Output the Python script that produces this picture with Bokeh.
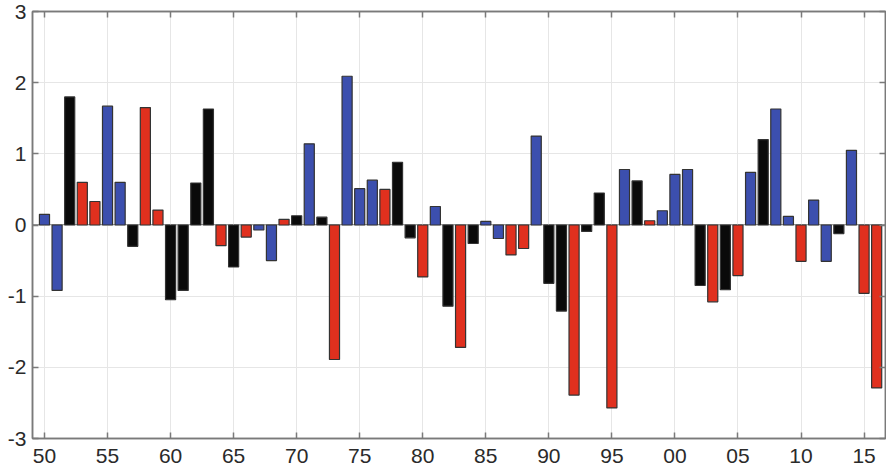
from bokeh.plotting import figure
from bokeh.models import FixedTicker, LinearAxis, Range1d, ColumnDataSource
from bokeh.embed import file_html
from bokeh.resources import INLINE

years = list(range(1950, 2017))
values = [0.15, -0.92, 1.80, 0.60, 0.33, 1.67, 0.60, -0.30, 1.65, 0.21,
          -1.05, -0.92, 0.59, 1.63, -0.29, -0.59, -0.17, -0.07, -0.50, 0.08,
          0.13, 1.14, 0.11, -1.89, 2.09, 0.51, 0.63, 0.50, 0.88, -0.18,
          -0.73, 0.26, -1.14, -1.72, -0.26, 0.05, -0.19, -0.42, -0.33, 1.25,
          -0.82, -1.21, -2.39, -0.09, 0.45, -2.57, 0.78, 0.62, 0.06, 0.20,
          0.71, 0.78, -0.85, -1.08, -0.91, -0.71, 0.74, 1.20, 1.63, 0.12,
          -0.51, 0.35, -0.51, -0.12, 1.05, -0.96, -2.29]
groups = ["b", "b", "k", "r", "r", "b", "b", "k", "r", "r",
          "k", "k", "k", "k", "r", "k", "r", "b", "b", "r",
          "k", "b", "k", "r", "b", "b", "b", "r", "k", "k",
          "r", "b", "k", "r", "k", "b", "b", "r", "r", "b",
          "k", "k", "r", "k", "k", "r", "b", "k", "r", "b",
          "b", "b", "k", "r", "k", "r", "b", "k", "b", "b",
          "r", "b", "b", "k", "b", "r", "r"]
palette = {"b": "#3c4fae", "r": "#e0301e", "k": "#0a0a0a"}
x_ticks = list(range(1950, 2016, 5))
x_tick_labels = ["50", "55", "60", "65", "70", "75", "80", "85", "90", "95",
                 "00", "05", "10", "15"]
y_ticks = [-3, -2, -1, 0, 1, 2, 3]
y_tick_labels = ["-3", "-2", "-1", "0", "1", "2", "3"]

src = ColumnDataSource(dict(x=years, top=values,
                            color=[palette[g] for g in groups]))

p = figure(width=886, height=475, output_backend="svg", toolbar_location=None,
           x_range=Range1d(1949.05, 2016.7), y_range=Range1d(-3, 3),
           min_border_left=32, min_border_right=1, min_border_top=11,
           min_border_bottom=37)
p.background_fill_color = "white"
p.border_fill_color = "white"
p.outline_line_color = "#7a7a7a"
p.outline_line_width = 1.5

p.vbar(x="x", top="top", bottom=0, width=0.8, source=src,
       fill_color="color", line_color="#333333", line_width=1.2)

axis_color = "#7a7a7a"
text_color = "#2a2a2a"
font = "Liberation Sans"

bottom_axis = p.below[0]
left_axis = p.left[0]
top_axis = LinearAxis(ticker=FixedTicker(ticks=x_ticks))
right_axis = LinearAxis(ticker=FixedTicker(ticks=y_ticks))
p.add_layout(top_axis, "above")
p.add_layout(right_axis, "right")

for ax in (bottom_axis, left_axis, top_axis, right_axis):
    ax.axis_line_color = axis_color
    ax.axis_line_width = 1.5
    ax.major_tick_line_color = axis_color
    ax.major_tick_line_width = 1.5
    ax.major_tick_in = 6
    ax.major_tick_out = 0
    ax.minor_tick_line_color = None
    ax.major_label_text_font = font
    ax.major_label_text_font_size = "21px"
    ax.major_label_text_color = text_color

for ax in (top_axis, right_axis):
    ax.major_label_text_font_size = "0px"
    ax.major_label_standoff = 0
    ax.major_label_text_color = None

bottom_axis.ticker = FixedTicker(ticks=x_ticks)
bottom_axis.major_label_overrides = {t: l for t, l in zip(x_ticks, x_tick_labels)}
bottom_axis.major_label_standoff = 10
left_axis.ticker = FixedTicker(ticks=y_ticks)
left_axis.major_label_overrides = {t: l for t, l in zip(y_ticks, y_tick_labels)}
left_axis.major_label_standoff = 6

p.xgrid.ticker = FixedTicker(ticks=x_ticks)
p.ygrid.ticker = FixedTicker(ticks=y_ticks)
p.xgrid.grid_line_color = "#e6e6e6"
p.ygrid.grid_line_color = "#e6e6e6"

p.line(x=[1949.05, 2016.7], y=[0, 0], line_color="#333333", line_width=1, level="underlay")

out = file_html(p, INLINE)
open("out.html", "w").write(out)
